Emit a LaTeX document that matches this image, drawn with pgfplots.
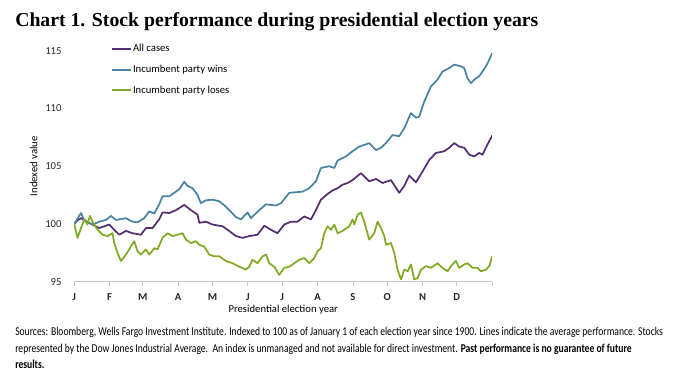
\documentclass[border=0pt]{standalone}
\usepackage{pgfplots}
\pgfplotsset{compat=1.18}
\usepackage{pgfplotstable}
\usepackage{fontspec}
\setmainfont{Carlito}
\newfontfamily\titlefont{Liberation Serif}
\newfontfamily\notefont{Carlito}[FakeStretch=0.80]
\definecolor{allc}{RGB}{84,46,112}
\definecolor{winc}{RGB}{74,130,162}
\definecolor{losec}{RGB}{128,170,38}
\definecolor{axgray}{RGB}{200,200,200}

\pgfplotstableread{
d v
0 100.0
5.9 100.95
8.8 100.3
16 99.95
21.9 100.2
27.8 100.35
32.1 100.7
36.5 100.35
45.3 100.5
51 100.2
55.4 100.15
61.3 100.5
65.7 101.1
70 100.9
74.4 101.7
77.3 102.4
83.2 102.4
87.6 102.7
91.9 103.0
96.3 103.65
99.2 103.3
103.6 103.1
108 102.5
110.9 101.8
115.3 102.05
121.1 102.1
127 101.97
132.8 101.5
141.6 100.6
146 100.4
151.8 101.0
154.7 100.5
162 101.2
167.9 101.7
176.6 101.6
181 101.8
188.3 102.7
194.1 102.75
199.9 102.8
205.8 103.1
211.6 103.7
216 104.85
223.3 105.0
227.7 104.85
230.6 105.5
237.9 105.85
243.7 106.3
249.6 106.7
258.3 107.0
264.2 106.4
268.6 106.6
272.9 107.0
278.7 107.7
284.6 107.6
289 108.3
294.8 109.6
299.2 109.2
302.1 109.3
306.5 110.6
312.3 111.9
318.1 112.5
322.5 113.2
328.4 113.5
332.7 113.8
338.6 113.65
341.5 113.5
344.4 112.6
347.4 112.2
350.3 112.5
354.6 112.8
357.5 113.2
361.9 113.9
366 114.8
}\wins

\pgfplotstableread{
d v
0 100.0
2.6 100.3
5.9 100.5
13.1 100.1
21.9 99.65
30.6 99.95
35 99.5
39.4 99.07
45.3 99.4
51 99.2
58.4 99.07
62.8 99.65
68.6 99.65
74.4 100.4
77.3 101.0
83.2 100.95
89.1 101.2
96.3 101.65
102.2 101.2
108 100.8
109.5 100.1
115.3 100.2
121.1 99.95
129.9 99.8
135.7 99.4
141.6 98.95
147.4 98.8
153.2 98.95
160.5 99.07
166.4 99.85
172.2 99.5
178 99.2
183.9 99.95
189.7 100.2
195.5 100.2
201.4 100.65
207.3 100.4
211.6 101.2
216 102.1
221.8 102.6
226.2 102.9
230.6 103.1
234.9 103.4
239.3 103.55
243.7 103.8
251 104.4
258.3 103.7
264.2 103.9
270 103.55
277.3 103.8
284.6 102.7
289 103.3
293.3 104.2
299.2 103.6
305 104.55
310.9 105.55
316.7 106.15
324 106.3
328.4 106.6
332.7 107.0
337.1 106.7
341.5 106.6
345.9 106.0
350.3 105.85
354.6 106.15
357.5 106.0
361.9 106.9
366 107.65
}\allcases

\pgfplotstableread{
d v
0 100.0
2.9 98.8
5.9 99.65
8.8 100.4
11.6 99.95
13.7 100.7
16.6 100.1
20.4 99.5
24.8 99.07
29.2 98.95
33.5 99.2
35 98.35
37.9 97.5
40.9 96.8
45.3 97.35
49.6 98.05
52.5 98.5
55.4 97.65
58.4 97.35
62.8 97.8
65.7 97.35
70 97.9
72.9 97.8
77.3 98.8
81.7 99.2
86.1 98.95
90.5 99.07
94.8 99.2
97.8 98.65
102.2 98.35
106.6 98.5
109.5 98.2
113.8 98.05
118.2 97.35
122.6 97.2
127 97.2
132.8 96.8
138.6 96.6
144.5 96.3
150.3 96.05
153.2 96.3
156.1 96.9
160.5 96.6
164.9 97.2
167.9 97.35
170.8 96.6
175.1 96.3
179.5 95.6
183.9 96.2
188.3 96.3
192.6 96.6
197 96.9
201.4 97.05
205.8 96.6
210.2 97.05
213 97.65
216 97.9
218.9 99.2
221.8 99.8
224.8 99.5
227.7 99.95
230.6 99.2
234.9 99.4
240.8 99.8
243.7 100.4
245.2 99.95
248.1 100.8
251 101.0
253.9 100.2
258.3 98.65
262.7 99.2
265.6 100.2
268.6 99.65
271.5 98.95
273 98.2
277.3 98.35
280.2 97.5
283.1 96.05
286.1 95.2
289 96.05
291.9 95.9
294.8 96.5
297.7 95.2
300.6 95.3
303.6 96.05
308 96.35
312.3 96.2
318.1 96.6
322.5 96.2
326.9 95.9
329.8 96.35
334.2 96.8
337.1 96.2
341.5 96.5
344.4 96.6
348.8 96.2
353.2 96.2
356.1 95.9
360.5 96.05
363.4 96.35
366 97.2
}\loses

\begin{document}
\begin{tikzpicture}[x=0.75pt,y=0.75pt]
\useasboundingbox (0,0) rectangle (675,388);
\node[anchor=base west, inner sep=0pt, font=\titlefont\bfseries\fontsize{14.8}{16}\selectfont] at (15,361) {Chart 1. Stock performance during presidential election years};
\begin{axis}[
  at={(65,92)}, anchor=south west,
  scale only axis, width=313.5pt, height=173.25pt,
  xmin=0, xmax=366, ymin=95, ymax=115,
  axis x line*=bottom, axis y line*=left,
  x axis line style={axgray, line width=0.8pt, -},
  y axis line style={draw=none},
  xtick={0,31,60,91,121,152,182,213,244,274,305,335},
  xticklabels={J,F,M,A,M,J,J,A,S,O,N,D},
  extra x ticks={366}, extra x tick labels={},
  ytick={95,100,105,110,115},
  x tick style={axgray, line width=0.6pt},
  y tick style={draw=none},
  tick align=outside, major tick length=3pt,
  /pgf/number format/assume math mode=true,
  tick label style={font=\fontsize{8}{9}\selectfont, text=black!85},
  xticklabel style={yshift=-2pt, font=\bfseries\fontsize{8}{9}\selectfont},
  yticklabel style={xshift=-3pt},
  xlabel={Presidential election year},
  ylabel={Indexed value},
  label style={font=\fontsize{8}{9}\selectfont},
  xlabel style={yshift=9pt},
  ylabel style={yshift=-1pt},
  legend style={draw=none, fill=none, at={(axis description cs:0.087,1.035)}, anchor=north west,
     font=\fontsize{8}{9}\selectfont, row sep=6.5pt, inner sep=0pt, nodes={inner sep=1pt}},
  legend cell align=left,
  legend image code/.code={\draw[#1, line width=1.6pt] (0pt,0pt) -- (14pt,0pt);},
  every axis plot/.append style={line width=1.3pt, line join=round},
]
\addplot[allc] table[x=d,y=v] {\allcases};
\addlegendentry{All cases}
\addplot[winc] table[x=d,y=v] {\wins};
\addlegendentry{Incumbent party wins}
\addplot[losec] table[x=d,y=v] {\loses};
\addlegendentry{Incumbent party loses}
\end{axis}
\node[anchor=base west, inner sep=0pt, align=left, font=\notefont\fontsize{9}{12.5}\selectfont] at (15,19) {Sources: Bloomberg, Wells Fargo Investment Institute. Indexed to 100 as of January 1 of each election year since 1900. Lines indicate the average performance. Stocks\\represented by the Dow Jones Industrial Average.\ \ An index is unmanaged and not available for direct investment. \textbf{Past performance is no guarantee of future}\\\textbf{results.}};
\end{tikzpicture}
\end{document}
